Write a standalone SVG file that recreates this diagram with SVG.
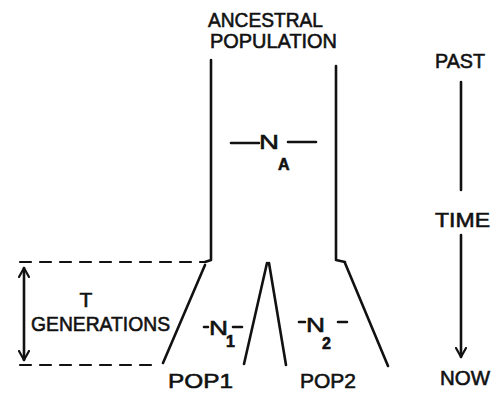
<svg xmlns="http://www.w3.org/2000/svg" width="502" height="393" viewBox="0 0 502 393">
<defs>
<style>
.ln{fill:none;stroke:#111;stroke-width:2.6;stroke-linecap:round;stroke-linejoin:round}
.ds{fill:none;stroke:#111;stroke-width:2.2;stroke-dasharray:11 9;stroke-linecap:round}
.t{font-family:"Liberation Sans",Arial,sans-serif;fill:#111;stroke:#111;stroke-width:0.6;font-size:21px}
.s{font-size:16px;font-weight:bold}
</style>
<marker id="chev" viewBox="0 0 12 12" refX="10" refY="6" markerWidth="12" markerHeight="12" markerUnits="userSpaceOnUse" orient="auto-start-reverse">
<path d="M1 1 L10 6 L1 11" fill="none" stroke="#111" stroke-width="2.2" stroke-linecap="round" stroke-linejoin="round"/>
</marker>
</defs>
<rect width="502" height="393" fill="#fff"/>
<g id="ancestral">
<text class="t" x="208" y="27" textLength="115" lengthAdjust="spacingAndGlyphs">ANCESTRAL</text>
<text class="t" x="210" y="48" textLength="127" lengthAdjust="spacingAndGlyphs">POPULATION</text>
<path class="ln" d="M211 60 L211 260 L205 262"/>
<path class="ln" d="M336 66 L336 260 L345 262"/>
<path class="ln" d="M231 143 L259 143 M288 142 L316 142"/>
<text class="t" x="259" y="149" font-size="25" textLength="20" lengthAdjust="spacingAndGlyphs">N</text>
<text class="t s" x="278" y="170">A</text>
</g>
<g id="pop1">
<path class="ln" d="M205 265 L163 363"/>
<path class="ln" d="M267 263 L244 364"/>
<path class="ln" d="M204 327 L208 327 M233 327 L242 327"/>
<text class="t" x="209" y="335" font-size="24" textLength="19" lengthAdjust="spacingAndGlyphs">N</text>
<text class="t s" x="226" y="347" font-size="13">1</text>
<text class="t" x="168" y="388" textLength="65" lengthAdjust="spacingAndGlyphs">POP1</text>
</g>
<g id="pop2">
<path class="ln" d="M269 263 L286 365"/>
<path class="ln" d="M345 263 L388 366"/>
<path class="ln" d="M299 322 L305 322 M338 322 L347 322"/>
<text class="t" x="306" y="332" font-size="24" textLength="19" lengthAdjust="spacingAndGlyphs">N</text>
<text class="t s" x="322" y="349">2</text>
<text class="t" x="300" y="388" textLength="56" lengthAdjust="spacingAndGlyphs">POP2</text>
</g>
<g id="generations">
<text class="t" x="86" y="307" text-anchor="middle">T</text>
<text class="t" x="31" y="331" textLength="139" lengthAdjust="spacingAndGlyphs">GENERATIONS</text>
</g>
<g id="time">
<text class="t" x="435" y="68" textLength="50" lengthAdjust="spacingAndGlyphs">PAST</text>
<text class="t" x="435" y="227" textLength="55" lengthAdjust="spacingAndGlyphs">TIME</text>
<text class="t" x="440" y="385" textLength="50" lengthAdjust="spacingAndGlyphs">NOW</text>
</g>
<g id="connectors">
<path class="ds" d="M20 262 L205 262"/>
<path class="ds" d="M20 365 L160 365"/>
<path class="ln" d="M24 268 L24 360" marker-start="url(#chev)" marker-end="url(#chev)"/>
<path class="ln" d="M461 82 L461 190"/>
<path class="ln" d="M461 235 L461 357" marker-end="url(#chev)"/>
</g>
</svg>
